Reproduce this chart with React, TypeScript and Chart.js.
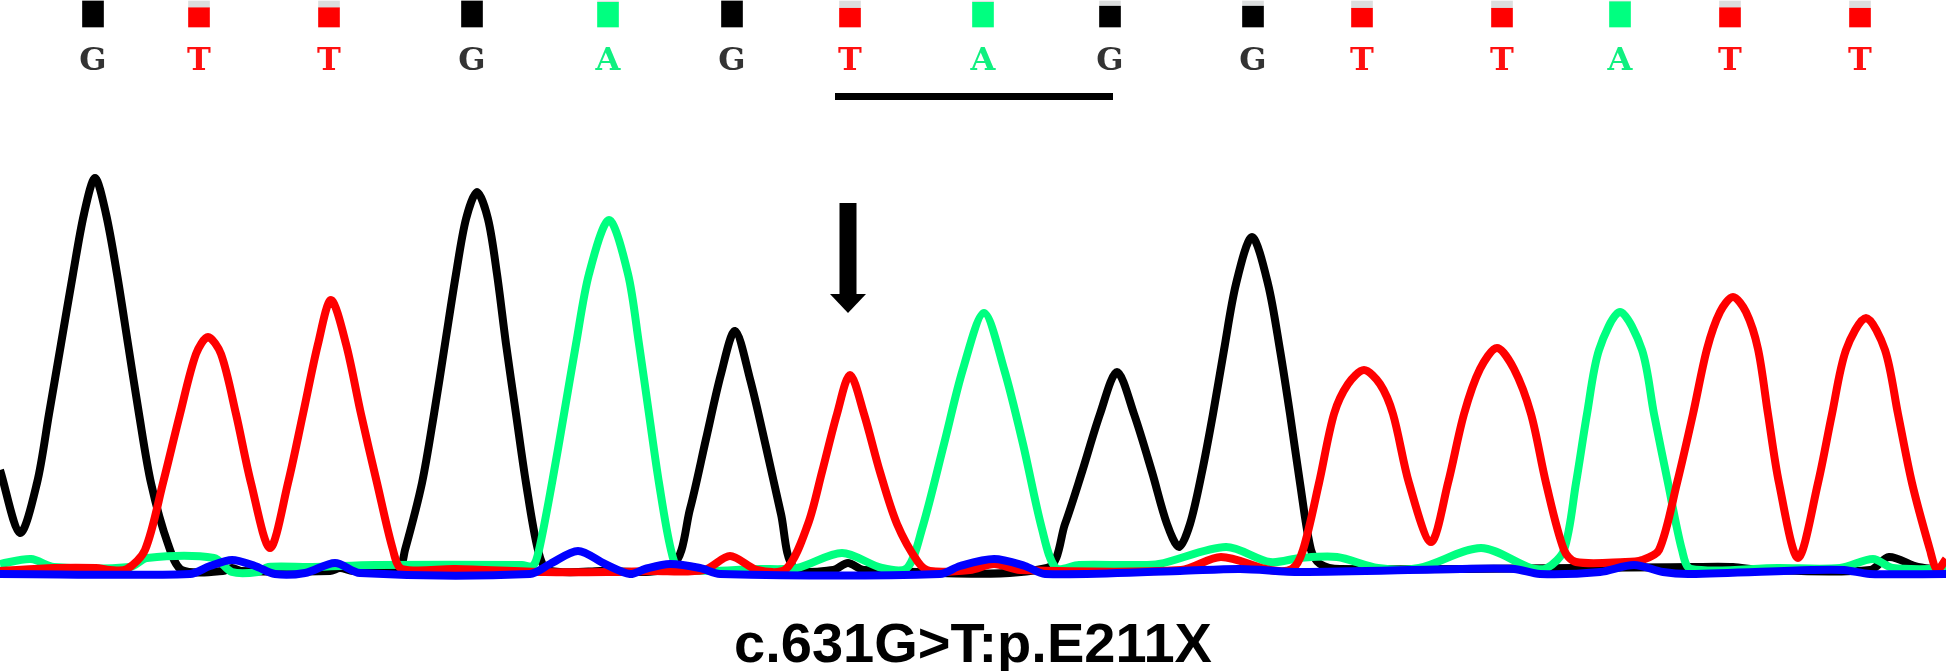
import React, { useEffect, useRef } from 'react';
import { Chart, registerables } from 'chart.js';

Chart.register(...registerables);

// ---- data ----
const BASE_CALLS = ['G', 'T', 'T', 'G', 'A', 'G', 'T', 'A', 'G', 'G', 'T', 'T', 'A', 'T', 'T'];
const BASE_POS = [93, 199, 329, 472, 608, 732, 850, 983, 1110, 1253, 1362, 1502, 1620, 1730, 1860];
const BASE_QUAL = [1, 0.74, 0.74, 1, 0.95, 1, 0.72, 0.95, 0.8, 0.8, 0.72, 0.72, 0.97, 0.74, 0.72];
const CODON_SPAN = [835, 1113];
const MUTATION_POS = 848;
const CAPTION = 'c.631G>T:p.E211X';

// [scan position, signal]
const C_TRACE: [number, number][] = [
  [0, 0], [190, 0], [210, 8], [232, 14], [255, 8], [275, 0], [305, 1], [335, 11], [360, 1],
  [530, 0], [550, 10], [578, 23], [605, 10], [630, 0], [645, 5], [670, 10], [700, 6], [720, 0],
  [940, 0], [960, 8], [994, 15], [1025, 8], [1045, 0], [1180, 3], [1240, 5], [1300, 2],
  [1460, 5], [1514, 5], [1540, 0], [1600, 2], [1634, 9], [1663, 2], [1690, 0], [1811, 4],
  [1844, 4], [1870, 0], [1946, 0],
];

const T_TRACE: [number, number][] = [
  [0, 3], [54, 6], [96, 6], [110, 4], [127, 5], [145, 24], [163, 91], [180, 160], [196, 220],
  [208, 237], [221, 220], [236, 160], [251, 91], [270, 26], [288, 91], [303, 160], [318, 230],
  [331, 274], [346, 230], [361, 160], [377, 91], [393, 24], [402, 5], [455, 5], [545, 2],
  [607, 2], [650, 3], [704, 4], [730, 18], [757, 4], [786, 5], [808, 50], [822, 102],
  [837, 160], [850, 199], [864, 160], [880, 102], [897, 50], [918, 12], [930, 3], [970, 4],
  [994, 10], [1020, 4], [1181, 4], [1221, 17], [1270, 4], [1292, 5], [1303, 24], [1319, 91],
  [1334, 160], [1348, 190], [1364, 204], [1380, 190], [1393, 160], [1409, 91], [1431, 32],
  [1448, 91], [1464, 160], [1480, 205], [1497, 226], [1514, 205], [1531, 160], [1546, 91],
  [1564, 24], [1576, 12], [1625, 12], [1642, 14], [1659, 24], [1677, 91], [1693, 160],
  [1707, 225], [1720, 262], [1733, 277], [1746, 262], [1758, 225], [1768, 160], [1779, 91],
  [1798, 16], [1818, 91], [1832, 160], [1846, 224], [1866, 256], [1885, 224], [1898, 160],
  [1912, 91], [1930, 24], [1937, 4], [1946, 15],
];

const A_TRACE: [number, number][] = [
  [0, 10], [31, 15], [54, 7], [130, 7], [147, 16], [214, 16], [232, 2], [258, 2], [268, 7],
  [312, 7], [375, 9], [522, 9], [533, 8], [539, 24], [552, 91], [564, 160], [576, 230],
  [589, 300], [609, 354], [628, 300], [639, 230], [649, 160], [659, 91], [671, 24], [680, 5],
  [760, 5], [797, 6], [842, 21], [882, 6], [907, 6], [922, 45], [944, 130], [963, 205],
  [984, 261], [1004, 205], [1023, 130], [1042, 45], [1056, 6], [1079, 9], [1132, 9],
  [1159, 10], [1226, 27], [1270, 12], [1300, 16], [1337, 17], [1378, 6], [1419, 6],
  [1481, 26], [1531, 6], [1547, 6], [1564, 24], [1576, 91], [1587, 160], [1599, 224],
  [1620, 262], [1642, 224], [1654, 160], [1668, 91], [1682, 24], [1691, 5], [1778, 6],
  [1840, 6], [1873, 15], [1893, 6], [1946, 5],
];

const G_TRACE: [number, number][] = [
  [0, 104], [20, 41], [37, 91], [49, 160], [61, 230], [73, 300], [84, 360], [95, 396],
  [106, 360], [117, 300], [128, 230], [139, 160], [151, 91], [168, 30], [182, 4], [223, 3],
  [232, 6], [241, 3], [330, 3], [340, 6], [353, 3], [398, 4], [405, 24], [422, 91], [434, 160],
  [445, 230], [456, 300], [466, 355], [477, 382], [488, 355], [497, 300], [506, 230],
  [516, 160], [526, 91], [538, 24], [548, 4], [600, 3], [672, 8], [690, 65], [706, 135],
  [721, 200], [735, 243], [750, 195], [766, 127], [781, 60], [794, 6], [833, 4], [848, 11],
  [864, 4], [1047, 6], [1065, 50], [1082, 102], [1100, 160], [1117, 202], [1134, 160],
  [1152, 102], [1167, 50], [1179, 27], [1190, 50], [1202, 102], [1213, 160], [1224, 224],
  [1236, 290], [1252, 337], [1268, 290], [1280, 224], [1290, 160], [1300, 91], [1311, 24],
  [1320, 10], [1340, 5], [1691, 7], [1733, 7], [1760, 4], [1870, 4], [1889, 17], [1918, 7],
  [1946, 4],
];

// ---- styling / layout ----
const W = 1946;
const H = 671;
const TRACE_COLORS: Record<string, string> = { A: '#00ff80', C: '#0000ff', G: '#000000', T: '#ff0000' };
const LETTER_COLORS: Record<string, string> = { A: '#10f080', C: '#0000ff', G: '#333333', T: '#ff1010' };
const LETTER_SIZE = 32;
const LETTER_MID = 62;
const AREA_TOP = LETTER_MID + LETTER_SIZE / 2;
const AREA_BOTTOM = 623;
const BASE_PX = 574;
const Q_BOTTOM = 27;
const Q_PX = 26;

const marksPlugin = {
  id: 'marks',
  afterDatasetsDraw(chart: any) {
    const { ctx } = chart;
    const xs = chart.scales.x;
    ctx.save();
    ctx.fillStyle = '#000';
    const x0 = xs.getPixelForValue(CODON_SPAN[0]);
    const x1 = xs.getPixelForValue(CODON_SPAN[1]);
    ctx.fillRect(x0, 93, x1 - x0, 7);
    const m = xs.getPixelForValue(MUTATION_POS);
    ctx.fillRect(m - 8.5, 203, 17, 92);
    ctx.beginPath();
    ctx.moveTo(m - 18, 294);
    ctx.lineTo(m + 18, 294);
    ctx.lineTo(m, 313);
    ctx.closePath();
    ctx.fill();
    ctx.restore();
  },
};

function traceDataset(label: string, pts: [number, number][]) {
  return {
    type: 'line' as const,
    label,
    data: pts.map(([x, y]) => ({ x, y })),
    borderColor: TRACE_COLORS[label],
    borderWidth: 8,
    pointRadius: 0,
    fill: false,
    tension: 0.3,
    borderJoinStyle: 'round' as const,
    xAxisID: 'x',
    yAxisID: 'y',
  };
}

export default function App() {
  const ref = useRef<HTMLCanvasElement>(null);
  useEffect(() => {
    document.body.style.margin = '0';
    if (!ref.current) return;
    const qMax = (Q_BOTTOM - AREA_TOP) / Q_PX;
    const qMin = qMax - (AREA_BOTTOM - AREA_TOP) / Q_PX;
    const chart = new Chart(ref.current, {
      type: 'line',
      data: {
        datasets: [
          traceDataset('C', C_TRACE),
          traceDataset('T', T_TRACE),
          traceDataset('A', A_TRACE),
          traceDataset('G', G_TRACE),
          {
            type: 'bar',
            label: 'quality',
            data: BASE_POS.map((x, i) => ({ x, y: [0, BASE_QUAL[i]] })),
            backgroundColor: BASE_CALLS.map((b) => TRACE_COLORS[b]),
            barThickness: 21,
            grouped: false,
            borderWidth: 0,
            xAxisID: 'x',
            yAxisID: 'yq',
            clip: false,
          } as any,
          {
            type: 'bar',
            label: 'quality-rest',
            data: BASE_POS.map((x, i) => ({ x, y: [BASE_QUAL[i], 1] })),
            backgroundColor: '#dcdede',
            barThickness: 21,
            grouped: false,
            borderWidth: 0,
            xAxisID: 'x',
            yAxisID: 'yq',
            clip: false,
          } as any,
        ],
      },
      options: {
        animation: false,
        responsive: false,
        events: [],
        layout: { padding: { top: AREA_TOP - LETTER_SIZE, left: 0, right: 0, bottom: 0 } },
        plugins: {
          legend: { display: false },
          tooltip: { enabled: false },
          title: {
            display: true,
            text: CAPTION,
            position: 'bottom',
            color: '#000',
            padding: 0,
            font: { family: "'Liberation Sans', Arial, sans-serif", size: 56, weight: 'bold', lineHeight: '48px' },
          },
        },
        scales: {
          x: { type: 'linear', min: 0, max: W, display: false, offset: false, grid: { offset: false } },
          xTop: {
            type: 'linear',
            position: 'top',
            min: 0,
            max: W,
            offset: false,
            grid: { display: false, drawTicks: false, offset: false },
            border: { display: false },
            afterBuildTicks: (axis: any) => {
              axis.ticks = BASE_POS.map((v) => ({ value: v }));
            },
            ticks: {
              autoSkip: false,
              maxRotation: 0,
              padding: 0,
              font: { family: "'DejaVu Serif', serif", size: LETTER_SIZE, weight: 'bold', lineHeight: LETTER_SIZE + 'px' },
              color: (c: any) => LETTER_COLORS[BASE_CALLS[c.index]] || '#333',
              callback: (_v: any, i: number) => BASE_CALLS[i],
            },
          },
          y: { type: 'linear', min: -(AREA_BOTTOM - BASE_PX), max: BASE_PX - AREA_TOP, display: false },
          yq: { type: 'linear', min: qMin, max: qMax, display: false },
        },
      } as any,
      plugins: [marksPlugin],
    });
    return () => chart.destroy();
  }, []);
  return <canvas ref={ref} width={W} height={H} style={{ display: 'block' }} />;
}
